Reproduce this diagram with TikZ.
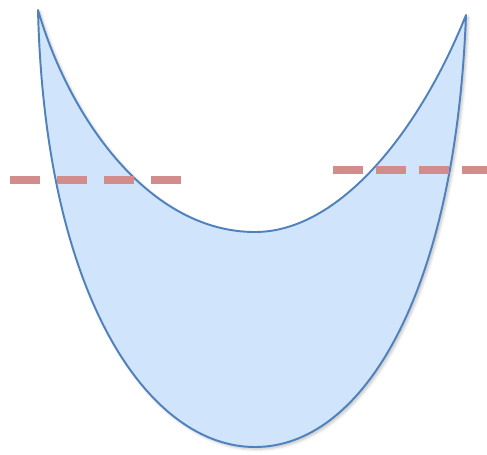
\documentclass[tikz,border=0pt]{standalone}
\usetikzlibrary{shadows.blur}
\begin{document}
\begin{tikzpicture}[x=0.02cm,y=-0.02cm]

%couleurs et styles
\definecolor{bord}{RGB}{79,129,189}
\definecolor{fond}{RGB}{208,228,252}
\definecolor{niveau}{RGB}{210,140,140}
\tikzset{
    croissant/.style={draw=bord, fill=fond, line width=1.1pt, line join=round,
        blur shadow={shadow xshift=1.2pt, shadow yshift=-1.2pt, shadow blur steps=6, shadow opacity=25}},
    niveau/.style={draw=niveau, line width=4pt}
}

\useasboundingbox (0,0) rectangle (487,454);

%coupe
\draw[croissant] (38,10) .. controls (45,300) and (150,447) .. (255,447)
    .. controls (360,447) and (455,300) .. (466,15)
    .. controls (420,130) and (340,232) .. (255,232)
    .. controls (150,232) and (70,120) .. (38,10) -- cycle;

%niveaux
\draw[niveau, dash pattern=on 0.6cm off 0.34cm] (10,180) -- (185,180);
\draw[niveau, dash pattern=on 0.6cm off 0.26cm] (333,170) -- (487,170);

\end{tikzpicture}
\end{document}
